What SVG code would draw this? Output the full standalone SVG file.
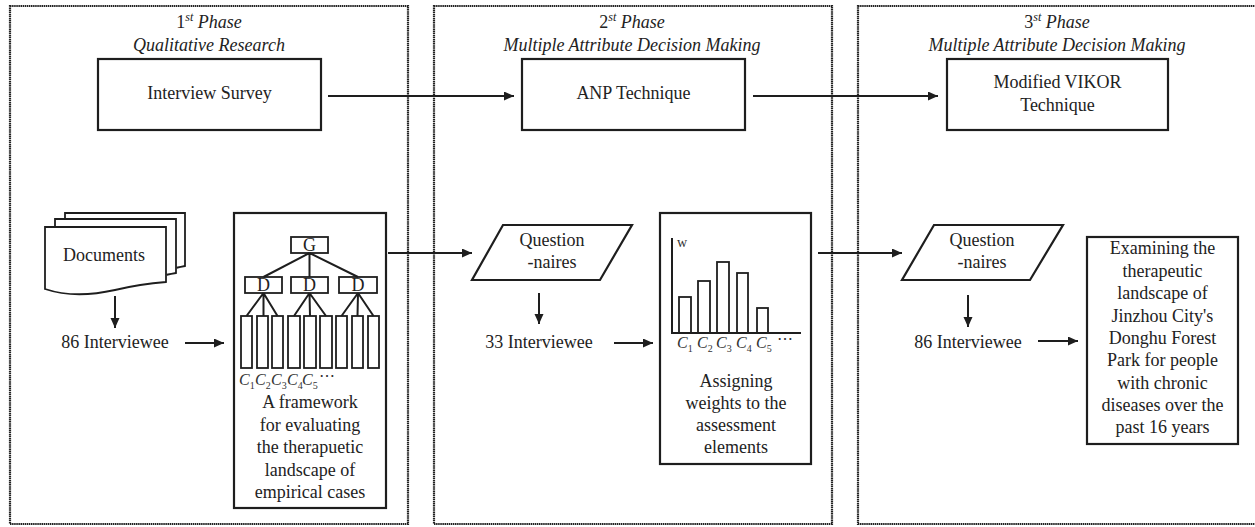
<svg xmlns="http://www.w3.org/2000/svg" width="1255" height="527" viewBox="0 0 1255 527">
<style>
.phase{fill:none;stroke:#222;stroke-width:2.2;stroke-dasharray:1.5 0.6}
.box{fill:#fff;stroke:#1e1e1e;stroke-width:2.2}
.thin{fill:#fff;stroke:#1e1e1e;stroke-width:1.8}
.ln{fill:none;stroke:#1e1e1e;stroke-width:2}
.t{font-family:"Liberation Serif","Times New Roman",serif;font-size:18px;fill:#222;text-anchor:middle}
.ti{font-family:"Liberation Serif","Times New Roman",serif;font-size:18px;fill:#222;text-anchor:middle;font-style:italic}
.c{font-family:"Liberation Serif","Times New Roman",serif;font-size:16px;fill:#333;font-style:italic}
.s{font-size:10px;font-style:normal}
</style>
<defs>
<marker id="ah" markerUnits="userSpaceOnUse" markerWidth="12" markerHeight="10" refX="10" refY="4.5" orient="auto">
<path d="M0,0 L10,4.5 L0,9 z" fill="#1e1e1e"/>
</marker>
</defs>
<rect width="1255" height="527" fill="#fff"/>

<g id="phase1">
<rect class="phase" x="10" y="6" width="398" height="518"/>
<text class="ti" x="209" y="28"><tspan font-style="normal">1</tspan><tspan font-size="12" dy="-7">st</tspan><tspan dy="7"> Phase</tspan></text>
<text class="ti" x="209" y="51">Qualitative Research</text>
</g>
<g id="phase2">
<rect class="phase" x="434" y="6" width="398" height="518"/>
<text class="ti" x="632" y="28"><tspan font-style="normal">2</tspan><tspan font-size="12" dy="-7">st</tspan><tspan dy="7"> Phase</tspan></text>
<text class="ti" x="632" y="51">Multiple Attribute Decision Making</text>
</g>
<g id="phase3">
<rect class="phase" x="858" y="6" width="420" height="518"/>
<text class="ti" x="1057" y="28"><tspan font-style="normal">3</tspan><tspan font-size="12" dy="-7">st</tspan><tspan dy="7"> Phase</tspan></text>
<text class="ti" x="1057" y="51">Multiple Attribute Decision Making</text>
</g>

<g id="interview-survey">
<rect class="box" x="98" y="59" width="223" height="71"/>
<text class="t" x="209.5" y="99">Interview Survey</text>
</g>
<g id="anp">
<rect class="box" x="522" y="59" width="223" height="71"/>
<text class="t" x="633.5" y="99">ANP Technique</text>
</g>
<g id="vikor">
<rect class="box" x="947" y="59" width="221" height="71"/>
<text class="t" x="1057.5" y="88">Modified VIKOR</text>
<text class="t" x="1057.5" y="111">Technique</text>
</g>

<g id="documents">
<path class="thin" d="M65,213 H185 V266 Q175,268 176,268 L65,268 z"/>
<path class="thin" d="M55,219 H176 V273 Q165,275 166,275 L55,275 z"/>
<path class="thin" d="M45,227 H166 V282 Q140,284 115,290 Q75,299 45,289 z"/>
<text class="t" x="104" y="261">Documents</text>
</g>
<g id="interviewee1">
<text class="t" x="115" y="348">86 Interviewee</text>
</g>

<g id="framework">
<rect class="box" x="234" y="213" width="152" height="295"/>
<g class="thin">
<rect x="291" y="237" width="37" height="16"/>
<rect x="245" y="277" width="37" height="16"/>
<rect x="291" y="277" width="37" height="16"/>
<rect x="339" y="277" width="38" height="16"/>
<rect x="241" y="316" width="11" height="52"/>
<rect x="257" y="316" width="11" height="52"/>
<rect x="272" y="316" width="11" height="52"/>
<rect x="288" y="316" width="12" height="52"/>
<rect x="304" y="316" width="12" height="52"/>
<rect x="320" y="316" width="12" height="52"/>
<rect x="336" y="316" width="11" height="52"/>
<rect x="352" y="316" width="11" height="52"/>
<rect x="368" y="316" width="11" height="52"/>
</g>
<path class="ln" stroke-width="1.8" d="M309.5,253 L263.5,277 M309.5,253 V277 M309.5,253 L358,277 M263.5,293 L246.5,316 M263.5,293 V316 M263.5,293 L277.5,316 M309.5,293 L294,316 M309.5,293 L310,316 M309.5,293 L326,316 M358,293 L341.5,316 M358,293 L357.5,316 M358,293 L373.5,316"/>
<text class="t" x="309.5" y="251" font-size="15">G</text>
<text class="t" x="263.5" y="291" font-size="15">D</text>
<text class="t" x="309.5" y="291" font-size="15">D</text>
<text class="t" x="358" y="291" font-size="15">D</text>
<text class="c" y="385"><tspan x="239">C</tspan><tspan class="s" dy="4">1</tspan><tspan x="255" dy="-4">C</tspan><tspan class="s" dy="4">2</tspan><tspan x="271" dy="-4">C</tspan><tspan class="s" dy="4">3</tspan><tspan x="287" dy="-4">C</tspan><tspan class="s" dy="4">4</tspan><tspan x="302" dy="-4">C</tspan><tspan class="s" dy="4">5</tspan><tspan x="319" dy="-8" font-style="normal">⋯</tspan></text>
<text class="t" x="310" y="408">A framework</text>
<text class="t" x="310" y="431">for evaluating</text>
<text class="t" x="310" y="453">the therapuetic</text>
<text class="t" x="310" y="476">landscape of</text>
<text class="t" x="310" y="498">empirical cases</text>
</g>

<g id="questionnaires2">
<path class="box" d="M503,225 H632 L600,280 H472 z"/>
<text class="t" x="552" y="246">Question</text>
<text class="t" x="552" y="268">-naires</text>
</g>
<g id="interviewee2">
<text class="t" x="539" y="348">33 Interviewee</text>
</g>

<g id="weights">
<rect class="box" x="660" y="213" width="151" height="251"/>
<g class="thin">
<rect x="679" y="297" width="12" height="36"/>
<rect x="698" y="281" width="12" height="52"/>
<rect x="717" y="262" width="12" height="71"/>
<rect x="737" y="273" width="11" height="60"/>
<rect x="757" y="308" width="11" height="25"/>
</g>
<path class="ln" d="M672,238 V333 H801"/>
<text x="677" y="247" font-family="Liberation Serif, serif" font-size="14" fill="#333">w</text>
<text class="c" y="348"><tspan x="677">C</tspan><tspan class="s" dy="4">1</tspan><tspan x="697" dy="-4">C</tspan><tspan class="s" dy="4">2</tspan><tspan x="716" dy="-4">C</tspan><tspan class="s" dy="4">3</tspan><tspan x="736" dy="-4">C</tspan><tspan class="s" dy="4">4</tspan><tspan x="756" dy="-4">C</tspan><tspan class="s" dy="4">5</tspan><tspan x="777" dy="-8" font-style="normal">⋯</tspan></text>
<text class="t" x="736" y="387">Assigning</text>
<text class="t" x="736" y="409">weights to the</text>
<text class="t" x="736" y="431">assessment</text>
<text class="t" x="736" y="453">elements</text>
</g>

<g id="questionnaires3">
<path class="box" d="M934,225 H1063 L1030,280 H902 z"/>
<text class="t" x="982" y="246">Question</text>
<text class="t" x="982" y="268">-naires</text>
</g>
<g id="interviewee3">
<text class="t" x="968" y="348">86 Interviewee</text>
</g>

<g id="result">
<rect class="box" x="1087" y="237" width="151" height="207"/>
<text class="t" x="1162.5" y="254">Examining the</text>
<text class="t" x="1162.5" y="277">therapeutic</text>
<text class="t" x="1162.5" y="299">landscape of</text>
<text class="t" x="1162.5" y="322">Jinzhou City's</text>
<text class="t" x="1162.5" y="344">Donghu Forest</text>
<text class="t" x="1162.5" y="366">Park for people</text>
<text class="t" x="1162.5" y="389">with chronic</text>
<text class="t" x="1162.5" y="411">diseases over the</text>
<text class="t" x="1162.5" y="433">past 16 years</text>
</g>

<g id="connectors" class="ln" marker-end="url(#ah)">
<line x1="328" y1="96" x2="514" y2="96"/>
<line x1="753" y1="96" x2="938" y2="96"/>
<line x1="115" y1="296" x2="115" y2="328"/>
<line x1="185" y1="343" x2="224" y2="343"/>
<line x1="388" y1="253" x2="472" y2="253"/>
<line x1="539" y1="293" x2="539" y2="324"/>
<line x1="614" y1="343" x2="653" y2="343"/>
<line x1="818" y1="253" x2="902" y2="253"/>
<line x1="968" y1="295" x2="968" y2="327"/>
<line x1="1038" y1="341" x2="1078" y2="341"/>
</g>
</svg>
